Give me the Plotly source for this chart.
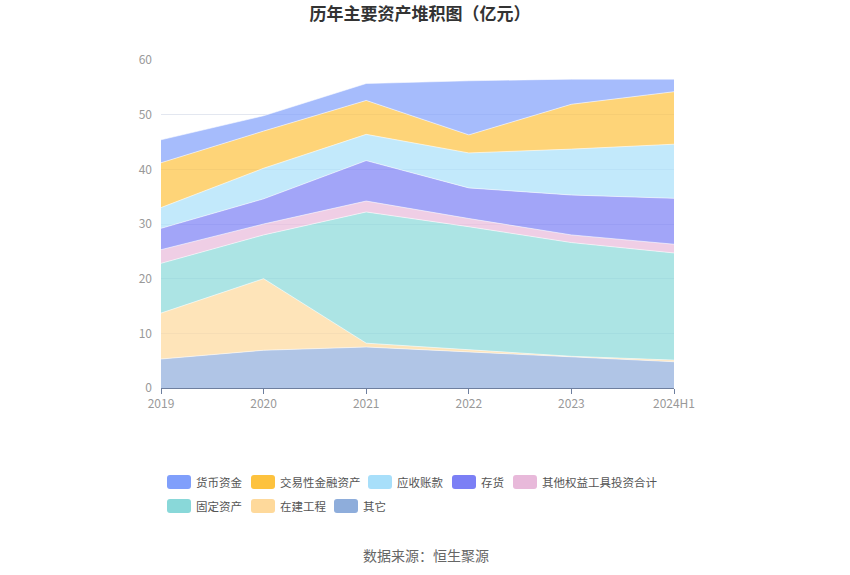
import plotly.graph_objects as go

years = ["2019", "2020", "2021", "2022", "2023", "2024H1"]

# values in 亿元 (stack order bottom -> top)
qita = [5.3, 6.9, 7.5, 6.6, 5.6, 4.8]
zaijian = [8.4, 13.1, 0.7, 0.4, 0.2, 0.3]
guding = [9.1, 8.0, 24.0, 22.5, 20.8, 19.6]
qitaquanyi = [2.5, 2.0, 2.0, 1.5, 1.4, 1.6]
cunhuo = [3.9, 4.6, 7.4, 5.6, 7.3, 8.4]
yingshou = [3.8, 5.6, 4.8, 6.4, 8.4, 9.9]
jiaoyixing = [8.2, 6.8, 6.2, 3.3, 8.2, 9.6]
huobi = [4.2, 2.8, 3.1, 9.9, 4.6, 2.3]

series = [
    ("其它", qita, (142, 173, 219)),
    ("在建工程", zaijian, (254, 217, 155)),
    ("固定资产", guding, (137, 216, 217)),
    ("其他权益工具投资合计", qitaquanyi, (232, 185, 218)),
    ("存货", cunhuo, (123, 127, 245)),
    ("应收账款", yingshou, (168, 223, 250)),
    ("交易性金融资产", jiaoyixing, (253, 194, 62)),
    ("货币资金", huobi, (128, 159, 251)),
]

legend_order = ["货币资金", "交易性金融资产", "应收账款", "存货", "其他权益工具投资合计",
                "固定资产", "在建工程", "其它"]

fig = go.Figure()
for name, vals, c in series:
    fig.add_trace(go.Scatter(
        x=years, y=vals, name=name, mode="lines", stackgroup="one",
        line=dict(width=0.8, color="rgba(255,255,255,0.7)"),
        fillcolor="rgba(%d,%d,%d,0.7)" % c,
        showlegend=False,
    ))

# plot area pixel geometry
L, R, T, B = 161, 674, 60, 388
W, H = 850, 575

def px2paper(x, y):
    return (x - L) / (R - L), (B - y) / (B - T)

def rounded_rect(x0, y0, x1, y1, r=3):
    def p(x, y):
        px, py = px2paper(x, y)
        return "%f,%f" % (px, py)
    path = "M" + p(x0 + r, y0)
    path += " L" + p(x1 - r, y0)
    path += " Q" + p(x1, y0) + " " + p(x1, y0 + r)
    path += " L" + p(x1, y1 - r)
    path += " Q" + p(x1, y1) + " " + p(x1 - r, y1)
    path += " L" + p(x0 + r, y1)
    path += " Q" + p(x0, y1) + " " + p(x0, y1 - r)
    path += " L" + p(x0, y0 + r)
    path += " Q" + p(x0, y0) + " " + p(x0 + r, y0) + " Z"
    return path

colors = {n: c for n, _, c in series}
legend_pos = {
    "货币资金": (167, 482), "交易性金融资产": (251, 482), "应收账款": (368, 482),
    "存货": (452, 482), "其他权益工具投资合计": (513, 482),
    "固定资产": (167, 506), "在建工程": (251, 506), "其它": (334, 506),
}
shapes = []
annotations = []
for name in legend_order:
    x, y = legend_pos[name]
    c = colors[name]
    shapes.append(dict(type="path", xref="paper", yref="paper",
                       path=rounded_rect(x, y - 7, x + 24, y + 7, 3),
                       fillcolor="rgb(%d,%d,%d)" % c, line=dict(width=0)))
    tx, ty = px2paper(x + 27, y)
    annotations.append(dict(text=name, xref="paper", yref="paper", x=tx, y=ty,
                            xanchor="left", yanchor="middle", showarrow=False,
                            font=dict(size=11.5, color="#555")))

annotations.append(dict(text="数据来源：恒生聚源", xref="paper", yref="paper",
                        x=px2paper(426, 0)[0], y=px2paper(0, 555)[1],
                        xanchor="center", yanchor="middle", showarrow=False,
                        font=dict(size=14, color="#666")))

fig.update_layout(
    width=W, height=H,
    margin=dict(l=L, r=W - R, t=T, b=H - B),
    paper_bgcolor="white", plot_bgcolor="white",
    font=dict(family="Noto Sans CJK SC, sans-serif"),
    title=dict(text="<b>历年主要资产堆积图（亿元）</b>", x=420 / W, xanchor="center",
               y=1 - 14 / H, yanchor="middle", font=dict(size=17, color="#333")),
    xaxis=dict(type="category", range=[0, 5], showgrid=False, showline=True,
               linecolor="#6e7f9f", linewidth=1, ticks="outside", ticklen=5,
               tickcolor="#6e7f9f", tickfont=dict(size=12, color="#999"), zeroline=False),
    yaxis=dict(range=[0, 60], dtick=10, showgrid=True, gridcolor="#e3e7f0",
               zeroline=False, showline=False, ticks="", ticklabelstandoff=8,
               tickfont=dict(size=12, color="#999")),
    shapes=shapes, annotations=annotations, showlegend=False,
)
fig.write_html("out.html", config={"displayModeBar": False},
               post_script="document.body.style.margin='0';document.body.style.overflow='hidden';")
